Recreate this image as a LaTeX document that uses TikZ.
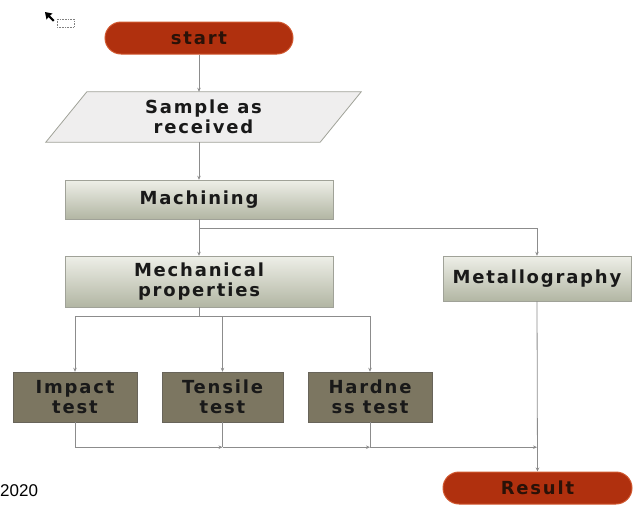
\documentclass[tikz,border=0pt]{standalone}
\usepackage{fontspec}
\setmainfont{DejaVu Sans}[LetterSpace=10]
\newfontfamily\arialfont{Liberation Sans}
\usetikzlibrary{arrows.meta,shapes.misc,calc,backgrounds}
\definecolor{termfill}{HTML}{B0300E}
\definecolor{termdraw}{HTML}{D0572E}
\definecolor{termtext}{HTML}{2A1208}
\definecolor{boxtop}{HTML}{EEEFE8}
\definecolor{boxbot}{HTML}{B2B6A3}
\definecolor{boxdraw}{HTML}{A0A298}
\definecolor{testfill}{HTML}{7C7661}
\definecolor{testdraw}{HTML}{68645A}
\definecolor{linecol}{HTML}{8C8C8C}
\definecolor{parafill}{HTML}{EFEEEE}
\begin{document}
\begin{tikzpicture}[x=1pt,y=-1pt,
 lbl/.style={font=\fontsize{18}{20}\selectfont\bfseries, align=center, text=black!90},
 term/.style={lbl, text=termtext, rounded rectangle, fill=termfill, draw=termdraw, line width=1pt, minimum height=32pt, inner sep=0pt},
 procbox/.style={lbl, rectangle, draw=boxdraw, top color=boxtop, bottom color=boxbot, inner sep=0pt},
 testbox/.style={lbl, rectangle, fill=testfill, draw=testdraw, minimum height=50pt, inner sep=0pt},
 conn/.style={draw=linecol, line width=0.8pt},
 arr/.style={conn, -{Stealth[length=4pt,width=3.5pt]}},
]
\useasboundingbox (0,0) rectangle (637,504);
% cursor icon
\fill[black] (45,12) -- (52.5,13.5) -- (50,15.5) -- (54.5,20) -- (53,21.5) -- (48.5,17) -- (46.5,19.5) -- cycle;
\draw[gray, densely dotted, line width=0.6pt] (57,19) rectangle (74,27);

\node[term, minimum width=188pt] (start) at (199,38) {start};
\node[lbl, minimum width=274pt, minimum height=50pt, inner sep=0pt] (sample) at (203.5,117) {Sample as\\received};
\begin{pgfonlayer}{background}
\draw[draw=boxdraw, fill=parafill, line width=0.8pt] ($(sample.south west)+(-20.5,0)$) -- ($(sample.north west)+(20.5,0)$) -- ($(sample.north east)+(20.5,0)$) -- ($(sample.south east)+(-20.5,0)$) -- cycle;
\end{pgfonlayer}
\node[procbox, minimum width=268pt, minimum height=39pt] (mach) at (199,199.5) {Machining};
\node[procbox, minimum width=268pt, minimum height=51pt] (mech) at (199,281.5) {Mechanical\\properties};
\node[procbox, minimum width=188pt, minimum height=45pt] (metal) at (537,278.5) {Metallography};
\node[testbox, minimum width=124pt] (impact) at (75,397) {Impact\\test};
\node[testbox, minimum width=121pt] (tensile) at (222.5,397) {Tensile\\test};
\node[testbox, minimum width=124pt] (hard) at (370,397) {Hardne\\ss test};
\node[term, minimum width=189pt] (result) at (537.5,488) {Result};
\node[font=\arialfont\fontsize{17}{17}\selectfont, anchor=west, inner sep=0pt] (year) at (0,491) {2020};

\draw[arr] (start.south) -- (start.south |- sample.north);
\draw[arr] (sample.south -| mach.north) -- (mach.north);
\coordinate (j1) at ($(mach.south)+(0,9)$);
\draw[conn] (mach.south) -- (j1);
\draw[arr] (j1) -- (mech.north);
\draw[arr] (j1) -| (metal.north);
\coordinate (j2) at ($(mech.south)+(0,9)$);
\draw[conn] (mech.south) -- (j2);
\draw[conn] (j2 -| impact.north) -- (j2 -| hard.north);
\draw[arr] (j2 -| impact.north) -- (impact.north);
\draw[arr] (j2 -| tensile.north) -- (tensile.north);
\draw[arr] (j2 -| hard.north) -- (hard.north);
\coordinate (j3) at ($(impact.south)+(0,25)$);
\draw[conn] (impact.south) -- (j3);
\draw[arr] (j3) -- (j3 -| tensile.south);
\draw[conn] (tensile.south) -- (j3 -| tensile.south);
\draw[arr] (j3 -| tensile.south) -- (j3 -| hard.south);
\draw[conn] (hard.south) -- (j3 -| hard.south);
\draw[arr] (j3 -| hard.south) -- (j3 -| metal.south);
\draw[arr] (metal.south) -- (result.north);
\end{tikzpicture}
\end{document}
